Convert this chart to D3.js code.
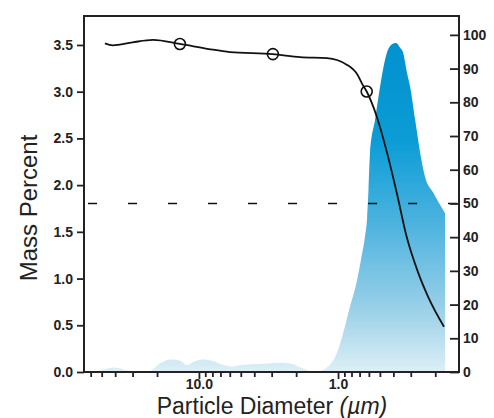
<!DOCTYPE html>
<html>
<head>
<meta charset="utf-8">
<script src="https://cdn.jsdelivr.net/npm/d3@7"></script>
<style>
  body { margin: 0; background: #fff; }
  svg { display: block; font-family: "Liberation Sans", Arial, Helvetica, sans-serif; }
</style>
</head>
<body>
<div id="chart"></div>
<script>
// distribution (left axis, mass percent)
const distDiam = [56, 47.4, 40.9, 35.2, 28.8, 23.3, 19.1, 16.2, 13.7, 12.2, 10.5, 9.36, 8.06, 6.84, 5.8, 4.91, 3.64, 2.61, 2.14, 1.87, 1.64, 1.44, 1.3, 1.14, 1.02, 0.906, 0.82, 0.743, 0.684, 0.64, 0.618, 0.604, 0.589, 0.542, 0.499, 0.447, 0.416, 0.383, 0.358, 0.341, 0.319, 0.303, 0.279, 0.257, 0.237, 0.207, 0.18, 0.17]
const distPct = [0, 0.03, 0.047, 0.03, 0.005, 0, 0.09, 0.135, 0.12, 0.075, 0.12, 0.135, 0.12, 0.08, 0.06, 0.075, 0.085, 0.1, 0.085, 0.05, 0.015, 0, 0.02, 0.08, 0.2, 0.45, 0.7, 0.93, 1.2, 1.45, 1.65, 1.95, 2.34, 2.7, 3.05, 3.41, 3.5, 3.52, 3.47, 3.42, 3.2, 3.05, 2.7, 2.35, 2.09, 1.92, 1.76, 1.70]

// cumulative curve (right axis, %)
const cumDiam = [47.4, 41.6, 30, 21.4, 13.7, 8.5, 5.98, 2.94, 1.87, 1.2, 0.86, 0.72, 0.675, 0.622, 0.527, 0.444, 0.378, 0.321, 0.265, 0.225, 0.173]
const cumPct = [97.5, 96.9, 97.8, 98.5, 97.3, 95.8, 94.9, 94.3, 93.4, 93.1, 91.1, 88, 85.7, 83.2, 75.8, 65, 53.1, 40.1, 29.4, 22.3, 13.4]

const markDiam = [13.7, 2.94, 0.622]
const markPct = [97.3, 94.3, 83.2]

const medianPct = 50

const leftTicks = [0, 0.5, 1, 1.5, 2, 2.5, 3, 3.5]
const rightTicks = [0, 10, 20, 30, 40, 50, 60, 70, 80, 90, 100]
const xMajor = [10, 1]
const xMajorLabels = ["10.0", "1.0"]
const xMinor = [60, 50, 40, 30, 20, 9, 8, 7, 6, 5, 4, 3, 2, 0.9, 0.8, 0.7, 0.6, 0.5, 0.4, 0.3, 0.2]

const width = 494
const height = 418
const mLeft = 84, mRight = 459, mTop = 16, mBottom = 372

const svg = d3.select('#chart').append('svg')
  .attr('width', width)
  .attr('height', height)

const x = d3.scaleLog().domain([67, 0.135]).range([mLeft, mRight])
const yL = d3.scaleLinear().domain([0, 3.81]).range([mBottom, mTop])
const yR = d3.scaleLinear().domain([0, 105.6]).range([mBottom, mTop])

// gradient for the distribution
const grad = svg.append('defs').append('linearGradient')
  .attr('id', 'blue')
  .attr('gradientUnits', 'userSpaceOnUse')
  .attr('x1', 0).attr('x2', 0)
  .attr('y1', yL(3.52)).attr('y2', mBottom)
const stops = [[0, '#0091cf'], [0.3, '#0c9dd6'], [0.55, '#4db3df'], [0.8, '#97cfe8'], [1, '#ddeff6']]
stops.forEach(s => grad.append('stop').attr('offset', s[0]).attr('stop-color', s[1]))

const distData = distDiam.map((d, i) => ({ d: d, v: distPct[i] }))
const area = d3.area()
  .x(p => x(p.d))
  .y0(mBottom)
  .y1(p => yL(p.v))
  .curve(d3.curveMonotoneX)

svg.append('path')
  .datum(distData)
  .attr('d', area)
  .attr('fill', 'url(#blue)')

// 50% dashed line
svg.append('line')
  .attr('x1', mLeft + 4).attr('x2', mRight)
  .attr('y1', yR(medianPct)).attr('y2', yR(medianPct))
  .attr('stroke', '#111')
  .attr('stroke-width', 1.6)
  .attr('stroke-dasharray', '9,31')

// cumulative line
const cumData = cumDiam.map((d, i) => ({ d: d, v: cumPct[i] }))
const line = d3.line()
  .x(p => x(p.d))
  .y(p => yR(p.v))
  .curve(d3.curveMonotoneX)

svg.append('path')
  .datum(cumData)
  .attr('d', line)
  .attr('fill', 'none')
  .attr('stroke', '#111')
  .attr('stroke-width', 1.8)

svg.selectAll('circle.mark')
  .data(markDiam)
  .enter()
  .append('circle')
  .attr('class', 'mark')
  .attr('cx', d => x(d))
  .attr('cy', (d, i) => yR(markPct[i]))
  .attr('r', 5.5)
  .attr('fill', 'none')
  .attr('stroke', '#111')
  .attr('stroke-width', 1.6)

// frame
svg.append('rect')
  .attr('x', mLeft).attr('y', mTop)
  .attr('width', mRight - mLeft).attr('height', mBottom - mTop)
  .attr('fill', 'none')
  .attr('stroke', '#222')
  .attr('stroke-width', 2)

// left axis
const axL = svg.append('g').attr('transform', `translate(${mLeft},0)`)
  .call(d3.axisLeft(yL).tickValues(leftTicks).tickFormat(d3.format('.1f')).tickSize(7).tickPadding(4))
// right axis (ticks point inward)
const axR = svg.append('g').attr('transform', `translate(${mRight},0)`)
  .call(d3.axisRight(yR).tickValues(rightTicks).tickSizeInner(-9).tickSizeOuter(0).tickPadding(13))
// bottom axis
const axB = svg.append('g').attr('transform', `translate(0,${mBottom})`)
  .call(d3.axisBottom(x).tickValues(xMajor).tickFormat((d, i) => xMajorLabels[i]).tickSize(7).tickPadding(0))
const axM = svg.append('g').attr('transform', `translate(0,${mBottom})`)
  .call(d3.axisBottom(x).tickValues(xMinor).tickFormat('').tickSize(5))

;[axL, axR, axB, axM].forEach(a => {
  a.select('.domain').remove()
  a.selectAll('line').attr('stroke', '#222').attr('stroke-width', 1.8)
  a.selectAll('text')
    .attr('font-size', 14)
    .attr('font-weight', 'bold')
    .attr('fill', '#222')
    .attr('font-family', '"Liberation Sans", Arial, sans-serif')
})
axR.selectAll('text').attr('text-anchor', 'start').attr('x', 4)

// axis titles
svg.append('text')
  .attr('transform', `translate(37,${(mTop + mBottom) / 2 + 14}) rotate(-90)`)
  .attr('text-anchor', 'middle')
  .attr('font-size', 24)
  .attr('fill', '#222')
  .text('Mass Percent')

const xt = svg.append('text')
  .attr('x', 272).attr('y', 414)
  .attr('text-anchor', 'middle')
  .attr('font-size', 23)
  .attr('fill', '#222')
xt.append('tspan').text('Particle Diameter ')
xt.append('tspan').attr('font-style', 'italic').text('(µm)')
</script>
</body>
</html>
